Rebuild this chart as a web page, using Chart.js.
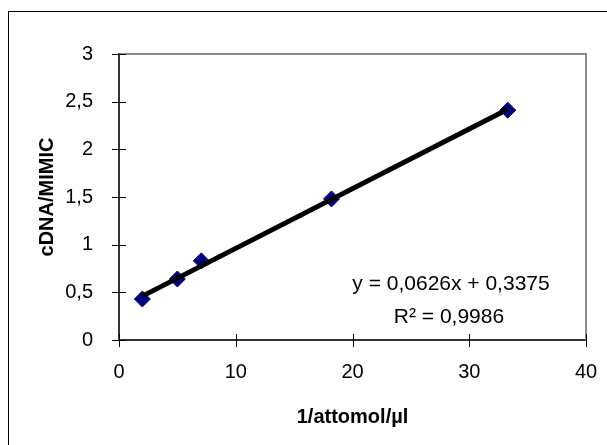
<!DOCTYPE html>
<html>
<head>
<meta charset="utf-8">
<script src="https://cdn.jsdelivr.net/npm/chart.js@4/dist/chart.umd.min.js"></script>
<style>
  html, body { margin: 0; padding: 0; background: #fff; }
  #wrap { width: 607px; height: 445px; }
</style>
</head>
<body>
<div id="wrap"><canvas id="calib"></canvas></div>
<script>
const X_VALUES = [2, 5, 7.05, 18.2, 33.3]
const Y_VALUES = [0.43, 0.64, 0.83, 1.48, 2.41]
const TREND_X = [2, 33.3]
const TREND_Y = [0.46, 2.42]
const EQUATION = 'y = 0,0626x + 0,3375'
const R_SQUARED = 'R² = 0,9986'
const X_TICKS = [0, 10, 20, 30, 40]
const Y_TICKS = [0, 0.5, 1, 1.5, 2, 2.5, 3]

const FONT = "'Liberation Sans', Arial, sans-serif"

function toPoints(xs, ys) {
  return xs.map((x, i) => ({ x: x, y: ys[i] }))
}

function commaNum(v) {
  return String(v).replace('.', ',')
}

// frame, cross ticks and the trendline label
const excelLook = {
  id: 'excelLook',
  beforeDraw(chart) {
    const ctx = chart.ctx
    ctx.save()
    ctx.strokeStyle = '#000'
    ctx.lineWidth = 1
    ctx.strokeRect(8.5, 11.5, 800, 600)
    ctx.restore()
  },
  afterDatasetsDraw(chart) {
    const ctx = chart.ctx
    const a = chart.chartArea
    const xs = chart.scales.x
    const ys = chart.scales.y
    ctx.save()
    ctx.strokeStyle = '#8c8c8c'
    ctx.lineWidth = 2
    ctx.beginPath()
    ctx.moveTo(a.left, a.top)
    ctx.lineTo(a.right, a.top)
    ctx.lineTo(a.right, a.bottom)
    ctx.stroke()

    ctx.strokeStyle = '#000'
    ctx.lineWidth = 1
    ctx.beginPath()
    Y_TICKS.forEach(v => {
      const py = Math.round(ys.getPixelForValue(v)) + 0.5
      ctx.moveTo(a.left - 7, py)
      ctx.lineTo(a.left + 7, py)
    })
    X_TICKS.forEach(v => {
      const px = Math.round(xs.getPixelForValue(v)) + 0.5
      ctx.moveTo(px, a.bottom - 6)
      ctx.lineTo(px, a.bottom + 7)
    })
    ctx.stroke()

    ctx.fillStyle = '#000'
    ctx.font = '21px ' + FONT
    ctx.textAlign = 'center'
    ctx.textBaseline = 'middle'
    ctx.fillText(EQUATION, 451, 284)
    ctx.fillText(R_SQUARED, 449, 317)
    ctx.restore()
  }
}

var calibData = {
  datasets: [{
    label: 'Trend',
    data: toPoints(TREND_X, TREND_Y),
    showLine: true,
    borderColor: '#000',
    borderWidth: 5,
    pointRadius: 0,
    fill: false
  }, {
    label: 'cDNA/MIMIC',
    data: toPoints(X_VALUES, Y_VALUES),
    pointStyle: 'rectRot',
    pointRadius: 8,
    backgroundColor: '#000080',
    borderColor: '#000080',
    borderWidth: 1,
    showLine: false
  }]
}

var calibOptions = {
  responsive: true,
  maintainAspectRatio: false,
  animation: false,
  layout: {
    autoPadding: false,
    padding: { left: 0, right: 21, top: 54, bottom: 0 }
  },
  scales: {
    x: {
      type: 'linear',
      min: 0,
      max: 40,
      afterFit: scale => {
        scale.height = 105
        scale.paddingLeft = 0
        scale.paddingRight = 0
      },
      afterBuildTicks: scale => { scale.ticks = X_TICKS.map(v => ({ value: v })) },
      grid: { display: false },
      border: { display: true, color: '#333', width: 2 },
      ticks: {
        color: '#000',
        padding: 12,
        font: { family: FONT, size: 20 },
        callback: v => commaNum(v)
      },
      title: {
        display: true,
        text: '1/attomol/µl',
        color: '#000',
        padding: { top: 16, bottom: 16 },
        font: { family: FONT, size: 20, weight: 'bold' }
      }
    },
    y: {
      type: 'linear',
      min: 0,
      max: 3,
      afterFit: scale => { scale.width = 119 },
      afterBuildTicks: scale => { scale.ticks = Y_TICKS.map(v => ({ value: v })) },
      grid: { display: false },
      border: { display: true, color: '#333', width: 2 },
      ticks: {
        color: '#000',
        padding: 18,
        font: { family: FONT, size: 20 },
        callback: v => commaNum(v)
      },
      title: {
        display: true,
        text: 'cDNA/MIMIC',
        color: '#000',
        padding: { top: 35, bottom: 35 },
        font: { family: FONT, size: 20, weight: 'bold' }
      }
    }
  },
  plugins: {
    legend: { display: false },
    tooltip: { enabled: false }
  }
}

var calibCtx = document.getElementById('calib')

var calibConfig = {
  type: 'scatter',
  data: calibData,
  plugins: [excelLook],
  options: calibOptions
}

const calibChart = new Chart(calibCtx, calibConfig)
</script>
</body>
</html>
